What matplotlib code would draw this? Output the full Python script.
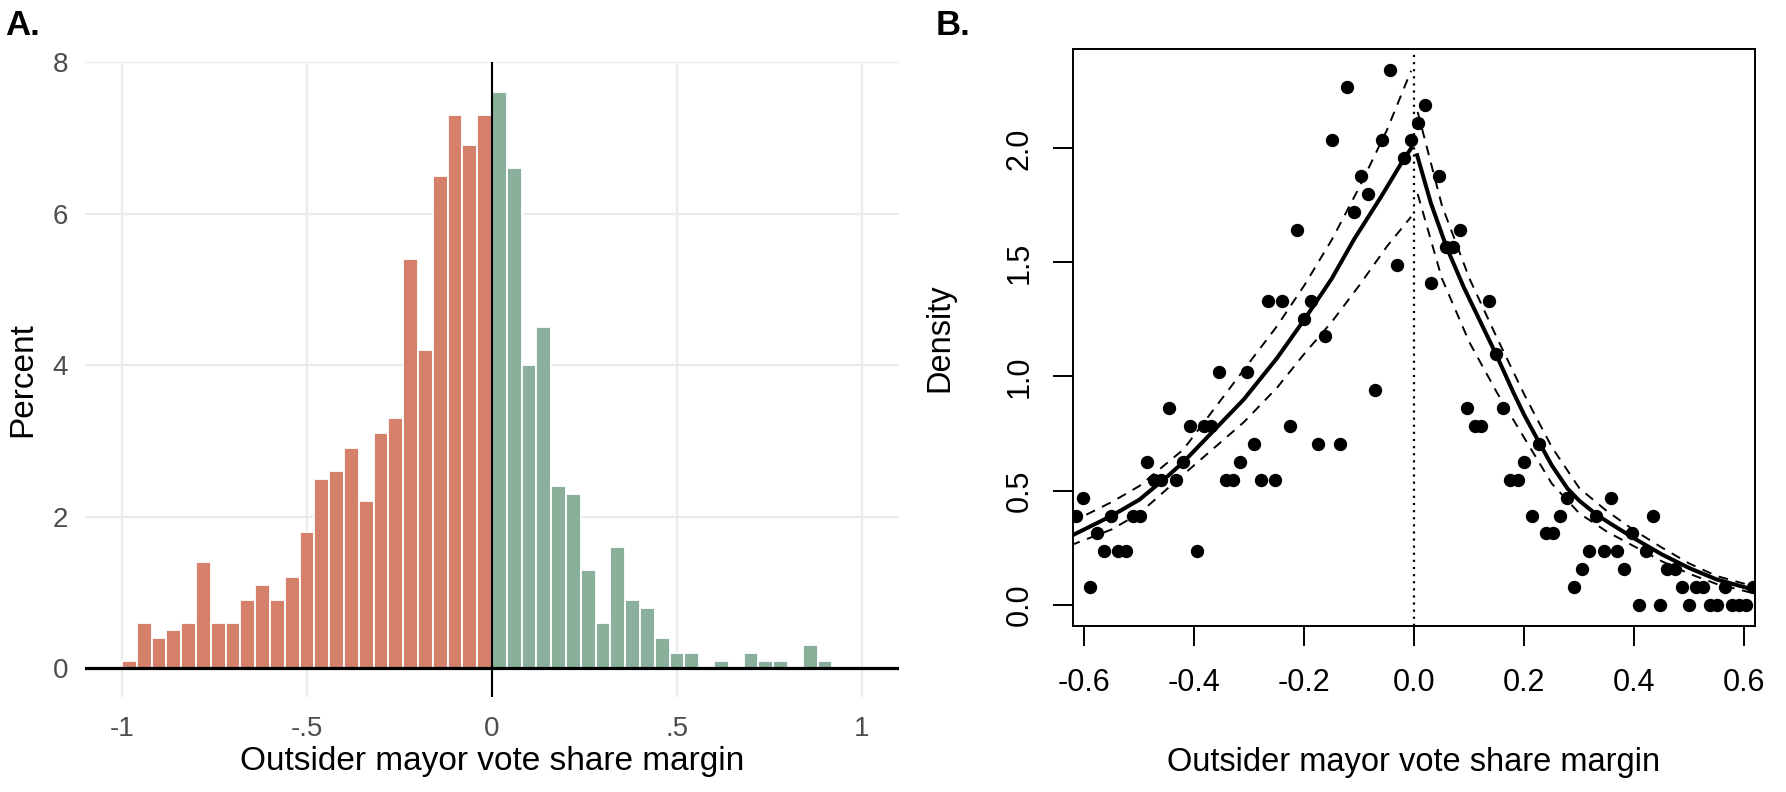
import numpy as np
import matplotlib
matplotlib.use('Agg')
import matplotlib.pyplot as plt

plt.rcParams['font.family'] = ['Liberation Sans', 'DejaVu Sans']
plt.rcParams['axes.unicode_minus'] = False

# ---------------- data: panel A (histogram, percent per 0.04 bin) ----------------
bin_width = 0.04
pct_below = [0.1, 0.6, 0.4, 0.5, 0.6, 1.4, 0.6, 0.6, 0.9, 1.1, 0.9, 1.2, 1.8,
             2.5, 2.6, 2.9, 2.2, 3.1, 3.3, 5.4, 4.2, 6.5, 7.3, 6.9, 7.3]
pct_above = [7.6, 6.6, 4.0, 4.5, 2.4, 2.3, 1.3, 0.6, 1.6, 0.9, 0.8, 0.4, 0.2,
             0.2, 0.0, 0.1, 0.0, 0.2, 0.1, 0.1, 0.0, 0.3, 0.1]
a_xticks = [-1, -0.5, 0, 0.5, 1]
a_xticklabels = ['-1', '-.5', '0', '.5', '1']
a_yticks = [0, 2, 4, 6, 8]

# ---------------- data: panel B (McCrary density test) ----------------
left_x = [-0.616, -0.603, -0.590, -0.577, -0.564, -0.551, -0.538, -0.525, -0.512, -0.499,
          -0.486, -0.473, -0.460, -0.447, -0.434, -0.421, -0.408, -0.395, -0.382, -0.369,
          -0.356, -0.343, -0.330, -0.317, -0.305, -0.292, -0.279, -0.266, -0.253, -0.240,
          -0.227, -0.214, -0.201, -0.188, -0.175, -0.162, -0.149, -0.136, -0.123, -0.110,
          -0.097, -0.084, -0.071, -0.058, -0.045, -0.032, -0.019, -0.006]
left_y = [0.390, 0.469, 0.078, 0.312, 0.234, 0.390, 0.234, 0.234, 0.390, 0.390,
          0.626, 0.547, 0.547, 0.862, 0.547, 0.626, 0.784, 0.234, 0.784, 0.784,
          1.020, 0.547, 0.547, 0.626, 1.020, 0.704, 0.547, 1.332, 0.547, 1.332,
          0.784, 1.643, 1.254, 1.332, 0.704, 1.178, 2.035, 0.704, 2.270, 1.720,
          1.880, 1.800, 0.940, 2.035, 2.345, 1.488, 1.956, 2.035]
right_x = [0.006, 0.019, 0.031, 0.044, 0.057, 0.070, 0.083, 0.096, 0.110, 0.122,
           0.135, 0.148, 0.161, 0.174, 0.188, 0.200, 0.214, 0.226, 0.239, 0.252,
           0.265, 0.278, 0.291, 0.305, 0.318, 0.331, 0.344, 0.357, 0.369, 0.382,
           0.395, 0.408, 0.421, 0.434, 0.447, 0.460, 0.473, 0.486, 0.499, 0.512,
           0.525, 0.538, 0.551, 0.564, 0.577, 0.590, 0.603, 0.616]
right_y = [2.110, 2.190, 1.409, 1.880, 1.566, 1.566, 1.643, 0.862, 0.784, 0.784,
           1.332, 1.098, 0.862, 0.547, 0.547, 0.626, 0.390, 0.704, 0.312, 0.312,
           0.390, 0.469, 0.078, 0.156, 0.234, 0.390, 0.234, 0.469, 0.234, 0.156,
           0.312, 0.000, 0.234, 0.390, 0.000, 0.156, 0.156, 0.078, 0.000, 0.078,
           0.078, 0.000, 0.000, 0.078, 0.000, 0.000, 0.000, 0.078]

# fitted density and confidence bands
fitl_x = [-0.625, -0.55, -0.50, -0.45, -0.42, -0.37, -0.31, -0.25, -0.20, -0.15, -0.11, -0.06, -0.02, -0.006]
fitl_y = [0.30, 0.39, 0.46, 0.56, 0.625, 0.75, 0.90, 1.08, 1.25, 1.43, 1.60, 1.79, 1.95, 2.00]
hil_x = [-0.625, -0.55, -0.50, -0.42, -0.31, -0.25, -0.20, -0.15, -0.10, -0.05, -0.006]
hil_y = [0.36, 0.45, 0.52, 0.68, 1.03, 1.22, 1.40, 1.60, 1.83, 2.08, 2.34]
lol_x = [-0.625, -0.55, -0.50, -0.42, -0.31, -0.25, -0.20, -0.15, -0.10, -0.05, -0.006]
lol_y = [0.26, 0.33, 0.40, 0.57, 0.80, 0.95, 1.10, 1.24, 1.40, 1.57, 1.70]

fitr_x = [0.005, 0.03, 0.058, 0.09, 0.12, 0.148, 0.18, 0.20, 0.227, 0.25, 0.278, 0.30,
          0.331, 0.35, 0.40, 0.45, 0.50, 0.55, 0.625]
fitr_y = [1.97, 1.76, 1.57, 1.39, 1.24, 1.10, 0.93, 0.83, 0.71, 0.61, 0.51, 0.455,
          0.395, 0.365, 0.29, 0.22, 0.16, 0.11, 0.06]
hir_x = [0.006, 0.05, 0.10, 0.15, 0.20, 0.25, 0.30, 0.35, 0.40, 0.45, 0.50, 0.55, 0.625]
hir_y = [2.16, 1.75, 1.43, 1.17, 0.92, 0.69, 0.51, 0.41, 0.325, 0.25, 0.18, 0.125, 0.075]
lor_x = [0.006, 0.05, 0.10, 0.15, 0.20, 0.25, 0.30, 0.35, 0.40, 0.45, 0.50, 0.55, 0.625]
lor_y = [1.80, 1.43, 1.15, 0.93, 0.73, 0.53, 0.40, 0.32, 0.255, 0.19, 0.135, 0.09, 0.045]

b_xticks = [-0.6, -0.4, -0.2, 0.0, 0.2, 0.4, 0.6]
b_yticks = [0.0, 0.5, 1.0, 1.5, 2.0]

orange = '#D4806A'
green = '#8AB09C'

W, H = 1786, 792
fig = plt.figure(figsize=(W / 100, H / 100), dpi=100)

# ---------------- panel A ----------------
ax1 = fig.add_axes([85 / W, 1 - 697 / H, 814 / W, 635 / H])
for s in ax1.spines.values():
    s.set_visible(False)
ax1.set_xlim(-1.1, 1.1)
ax1.set_ylim(-0.381, 8.0)
ax1.set_xticks(a_xticks)
ax1.set_xticklabels(a_xticklabels)
ax1.set_yticks(a_yticks)
ax1.grid(True, color='#EBEBEB', linewidth=1.6, zorder=0)
ax1.set_axisbelow(True)
ax1.tick_params(length=0, labelsize=20, labelcolor='#4D4D4D')
ax1.tick_params(axis='y', pad=12)
ax1.tick_params(axis='x', pad=14)

lo_edges = np.arange(len(pct_below)) * bin_width - 1.0
hi_edges = np.arange(len(pct_above)) * bin_width
ax1.bar(lo_edges, pct_below, width=bin_width, align='edge', color=orange,
        edgecolor='white', linewidth=1.3, zorder=2)
ax1.bar(hi_edges, pct_above, width=bin_width, align='edge', color=green,
        edgecolor='white', linewidth=1.3, zorder=2)
ax1.axhline(0, color='black', linewidth=2.3, zorder=3)
ax1.axvline(0, color='black', linewidth=1.5, zorder=3)

ax1.set_xlabel('Outsider mayor vote share margin', fontsize=24)
ax1.xaxis.set_label_coords(0.5, -0.102)
ax1.xaxis.label.set_verticalalignment('center')
ax1.set_ylabel('Percent', fontsize=24)
ax1.yaxis.set_label_coords(-0.076, 0.5)
ax1.yaxis.label.set_verticalalignment('center')

# ---------------- panel B ----------------
ax2 = fig.add_axes([1073 / W, 1 - 626 / H, 682 / W, 577 / H])
ax2.set_xlim(-0.6207, 0.6193)
ax2.set_ylim(-0.0937, 2.4356)
for s in ax2.spines.values():
    s.set_linewidth(1.4)
ax2.set_xticks(b_xticks)
ax2.set_xticklabels(['%.1f' % v for v in b_xticks])
ax2.set_yticks(b_yticks)
ax2.set_yticklabels(['%.1f' % v for v in b_yticks], rotation=90, va='center')
ax2.tick_params(direction='out', length=14.4, width=1.4, labelsize=22)
ax2.tick_params(axis='x', pad=16)
ax2.tick_params(axis='y', pad=13)

ax2.plot(left_x, left_y, 'o', color='black', markersize=8.6, zorder=4)
ax2.plot(right_x, right_y, 'o', color='black', markersize=8.6, zorder=4)

dash = (0, (5, 4))
ax2.plot(fitl_x, fitl_y, color='black', linewidth=2.9, zorder=3)
ax2.plot(hil_x, hil_y, color='black', linewidth=1.4, linestyle=dash, zorder=3)
ax2.plot(lol_x, lol_y, color='black', linewidth=1.4, linestyle=dash, zorder=3)
ax2.plot(fitr_x, fitr_y, color='black', linewidth=2.9, zorder=3)
ax2.plot(hir_x, hir_y, color='black', linewidth=1.4, linestyle=dash, zorder=3)
ax2.plot(lor_x, lor_y, color='black', linewidth=1.4, linestyle=dash, zorder=3)
ax2.axvline(0, color='black', linewidth=1.6, linestyle=(0, (1, 2.2)), zorder=2)

ax2.set_xlabel('Outsider mayor vote share margin', fontsize=23.5)
ax2.xaxis.set_label_coords(0.5, -0.236)
ax2.xaxis.label.set_verticalalignment('center')
ax2.set_ylabel('Density', fontsize=23.5)
ax2.yaxis.set_label_coords(-0.1955, 0.5)
ax2.yaxis.label.set_verticalalignment('center')

fig.text(5 / W, 1 - 35 / H, 'A.', fontsize=25, fontweight='bold', va='baseline')
fig.text(936 / W, 1 - 35 / H, 'B.', fontsize=25, fontweight='bold', va='baseline')

fig.savefig('out.png', dpi=100)
